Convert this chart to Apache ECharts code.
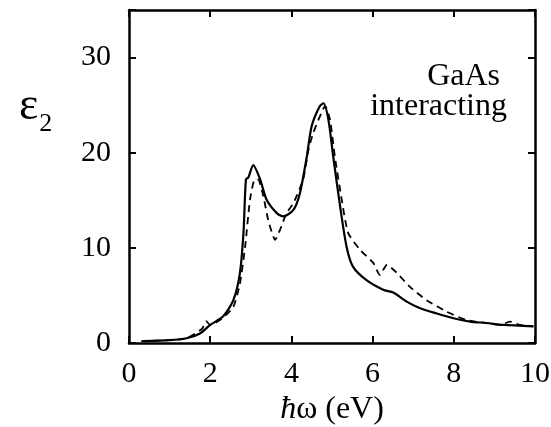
<!DOCTYPE html>
<html>
<head>
<meta charset="utf-8">
<script src="https://cdn.jsdelivr.net/npm/echarts@6/dist/echarts.min.js"></script>
<style>html,body{margin:0;padding:0;background:#fff}#c{width:551px;height:427px}</style>
</head>
<body>
<div id="c"></div>
<script>
var xTicks = [0, 2, 4, 6, 8, 10];
var yTicks = [0, 10, 20, 30];

var xSolid = [0.35, 1.0, 1.42, 1.75, 2.0, 2.32, 2.57, 2.73, 2.82, 2.88, 2.94, 3.06, 3.23, 3.39, 3.64, 3.80, 4.05, 4.21, 4.38, 4.50, 4.70, 4.79, 4.91, 5.03, 5.20, 5.36, 5.52, 5.85, 6.26, 6.51, 6.84, 7.17, 7.58, 7.99, 8.40, 8.81, 9.22, 9.96];
var ySolid = [0.2, 0.3, 0.5, 1.0, 1.9, 2.8, 4.5, 7.3, 11.6, 17.2, 17.4, 18.7, 17.2, 15.05, 13.65, 13.3, 14.0, 15.75, 19.6, 22.8, 24.9, 25.2, 23.5, 19.6, 14.35, 10.1, 8.0, 6.6, 5.6, 5.3, 4.35, 3.65, 3.1, 2.6, 2.25, 2.1, 1.9, 1.75];

var xDashed = [0.3, 1.0, 1.42, 1.8, 1.9, 2.0, 2.3, 2.57, 2.73, 2.86, 2.98, 3.10, 3.18, 3.31, 3.43, 3.60, 3.72, 3.88, 4.05, 4.29, 4.42, 4.54, 4.70, 4.83, 4.95, 5.07, 5.24, 5.40, 5.69, 6.02, 6.18, 6.35, 6.59, 6.92, 7.33, 7.82, 8.32, 8.81, 9.14, 9.38, 9.63, 9.96];
var yDashed = [0.2, 0.3, 0.5, 1.5, 2.3, 1.9, 2.6, 3.8, 6.2, 10.1, 15.05, 17.2, 17.2, 15.4, 12.9, 10.85, 11.9, 13.65, 14.7, 17.2, 20.3, 22.1, 23.8, 24.9, 23.5, 19.6, 15.05, 11.55, 9.8, 8.4, 7.15, 8.2, 7.4, 5.9, 4.5, 3.3, 2.4, 2.1, 1.9, 2.25, 1.9, 1.75];

function pairs(xs, ys) { return xs.map(function (x, i) { return [x, ys[i]]; }); }

var font = '"Liberation Serif", "Times New Roman", serif';
var chart = echarts.init(document.getElementById('c'), null, {renderer: 'canvas'});
var axisCommon = {
  axisLine: {show: true, onZero: false, lineStyle: {color: '#000', width: 2.5}},
  axisTick: {show: true, inside: true, length: 7, lineStyle: {color: '#000', width: 2}},
  splitLine: {show: false}
};
chart.setOption({
  animation: false,
  backgroundColor: '#fff',
  grid: {left: 129, right: 16, top: 10, bottom: 84, containLabel: false, outerBoundsMode: 'none'},
  xAxis: [
    Object.assign({type: 'value', min: 0, max: 10, interval: 2, position: 'bottom',
      axisLabel: {color: '#000', fontFamily: font, fontSize: 30, margin: 16,
        formatter: function (v) { return xTicks.indexOf(v) >= 0 ? String(v) : ''; }},
      name: '{i|ħ}ω (eV)', nameLocation: 'middle', nameGap: 47,
      nameTextStyle: {color: '#000', fontFamily: font, fontSize: 32,
        rich: {i: {fontStyle: 'italic', fontFamily: font, fontSize: 32, color: '#000'}}}
    }, axisCommon),
    Object.assign({type: 'value', min: 0, max: 10, interval: 2, position: 'top', axisLabel: {show: false}}, axisCommon)
  ],
  yAxis: [
    Object.assign({type: 'value', min: 0, max: 35, interval: 10, position: 'left',
      axisLabel: {color: '#000', fontFamily: font, fontSize: 30, margin: 18,
        formatter: function (v) { return yTicks.indexOf(v) >= 0 ? String(v) : ''; }}
    }, axisCommon),
    Object.assign({type: 'value', min: 0, max: 35, interval: 10, position: 'right', axisLabel: {show: false}}, axisCommon)
  ],
  graphic: [
    {type: 'text', left: 19, top: 84, style: {
      text: '{e|ε}{s|2}', rich: {
        e: {fontFamily: font, fontSize: 46, fill: '#000'},
        s: {fontFamily: font, fontSize: 26, fill: '#000', padding: [34, 0, 0, 1]}
      }}},
    {type: 'text', x: 500, y: 77, style: {text: 'GaAs', fontFamily: font, fontSize: 32, fill: '#000', textAlign: 'right', textVerticalAlign: 'middle'}},
    {type: 'text', x: 507, y: 107, style: {text: 'interacting', fontFamily: font, fontSize: 32, fill: '#000', textAlign: 'right', textVerticalAlign: 'middle'}}
  ],
  series: [
    {type: 'line', data: pairs(xSolid, ySolid), smooth: 0.25, showSymbol: false,
      lineStyle: {color: '#000', width: 2.2}},
    {type: 'line', data: pairs(xDashed, yDashed), smooth: 0.2, showSymbol: false,
      lineStyle: {color: '#000', width: 1.8, type: [7, 5]}}
  ]
});
</script>
</body>
</html>
